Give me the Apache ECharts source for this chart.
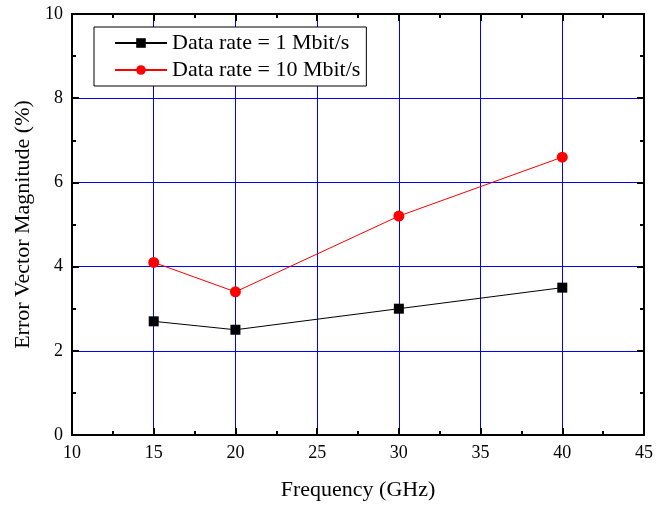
<!DOCTYPE html>
<html><head><meta charset="utf-8">
<script src="https://cdn.jsdelivr.net/npm/echarts@6/dist/echarts.min.js"></script>
<style>html,body{margin:0;padding:0;background:#fff}#c{width:671px;height:506px}</style>
</head><body><div id="c"></div>
<script>
const frequencies = [15, 20, 30, 40];
const evm1Mbit = [2.7, 2.5, 3.0, 3.5];
const evm10Mbit = [4.1, 3.4, 5.2, 6.6];
const seriesNames = ['Data rate = 1 Mbit/s', 'Data rate = 10 Mbit/s'];
const xTitle = 'Frequency (GHz)';
const yTitle = 'Error Vector Magnitude (%)';

const font = 'Liberation Serif';
const chart = echarts.init(document.getElementById('c'));
function axisBase() {
  return {
    axisLine: {show: true, onZero: false, lineStyle: {color: '#000', width: 2}},
    axisTick: {show: true, inside: true, length: 7, lineStyle: {color: '#000', width: 2}},
    minorTick: {show: true, splitNumber: 2, length: 4, lineStyle: {color: '#000', width: 2}},
    minorSplitLine: {show: false}
  };
}
chart.setOption({
  animation: false,
  backgroundColor: '#fff',
  grid: {left: 72, right: 27, top: 14, bottom: 69},
  legend: {
    orient: 'vertical', left: 94, top: 27,
    padding: [5, 6, 5, 20],
    itemGap: 5,
    itemWidth: 52, itemHeight: 12,
    borderColor: '#000', borderWidth: 1, backgroundColor: '#fff',
    textStyle: {fontFamily: font, fontSize: 22, color: '#000'},
    data: seriesNames
  },
  xAxis: [
    Object.assign(axisBase(), {
      type: 'value', min: 10, max: 45, interval: 5,
      name: xTitle, nameLocation: 'middle', nameGap: 44,
      nameTextStyle: {fontFamily: font, fontSize: 22, color: '#000'},
      axisLabel: {fontFamily: font, fontSize: 18, color: '#000', margin: 9},
      splitLine: {show: true, lineStyle: {color: '#0000ff', width: 1}}
    }),
    Object.assign(axisBase(), {
      type: 'value', min: 10, max: 45, interval: 5, position: 'top',
      axisLabel: {show: false}, splitLine: {show: false}
    })
  ],
  yAxis: [
    Object.assign(axisBase(), {
      type: 'value', min: 0, max: 10, interval: 2,
      name: yTitle, nameLocation: 'middle', nameGap: 36,
      nameTextStyle: {fontFamily: font, fontSize: 22, color: '#000'},
      axisLabel: {fontFamily: font, fontSize: 18, color: '#000', margin: 9},
      splitLine: {show: true, lineStyle: {color: '#0000ff', width: 1}}
    }),
    Object.assign(axisBase(), {
      type: 'value', min: 0, max: 10, interval: 2, position: 'right',
      axisLabel: {show: false}, splitLine: {show: false}
    })
  ],
  series: [
    {
      name: seriesNames[0], type: 'line',
      data: frequencies.map((f, i) => [f, evm1Mbit[i]]),
      symbol: 'rect', symbolSize: 10,
      itemStyle: {color: '#000'},
      lineStyle: {color: '#000', width: 1}
    },
    {
      name: seriesNames[1], type: 'line',
      data: frequencies.map((f, i) => [f, evm10Mbit[i]]),
      symbol: 'circle', symbolSize: 11,
      itemStyle: {color: '#ff0000'},
      lineStyle: {color: '#ff0000', width: 1}
    }
  ]
});
</script></body></html>
